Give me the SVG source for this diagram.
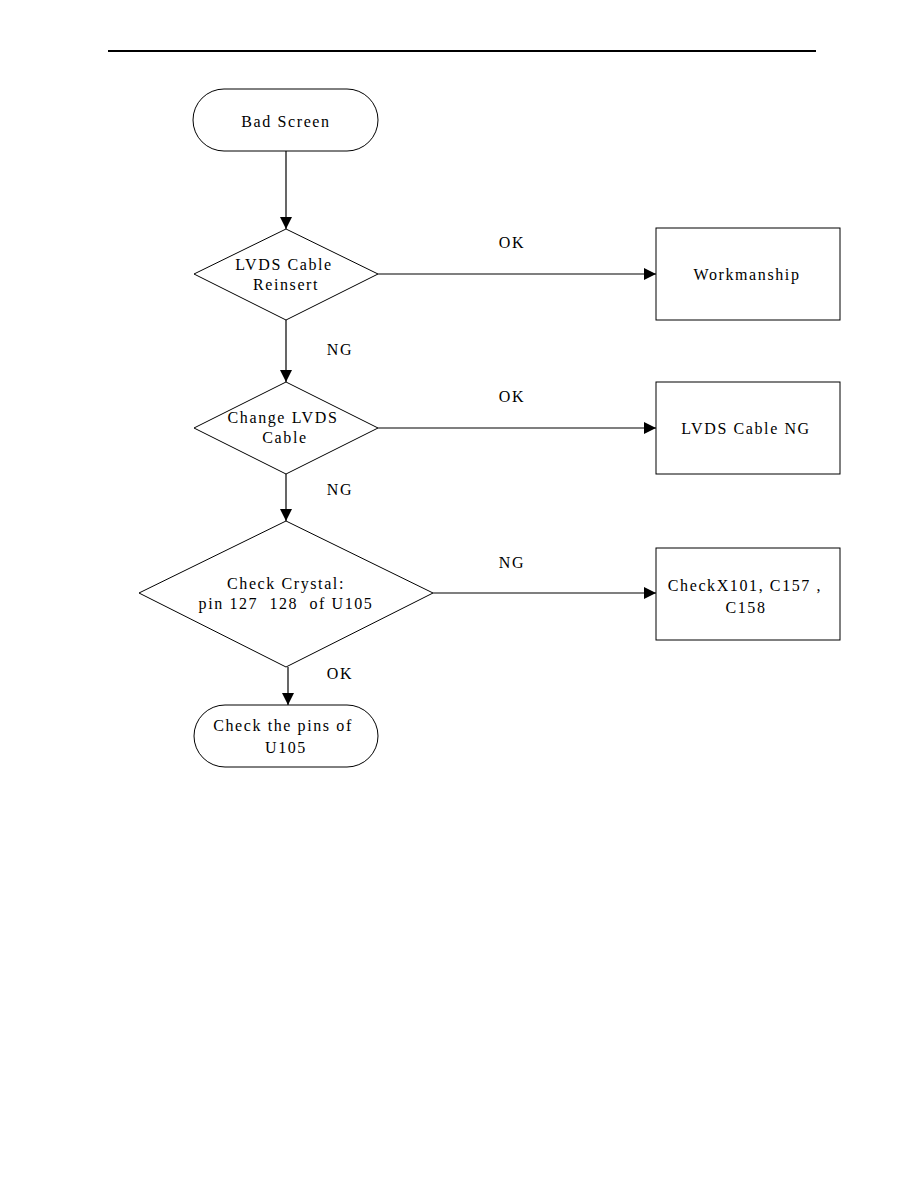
<svg xmlns="http://www.w3.org/2000/svg" width="918" height="1188" viewBox="0 0 918 1188">
<style>
.s{fill:#fff;stroke:#000;stroke-width:1}
.t{font-family:"Liberation Serif",serif;font-size:16px;letter-spacing:1.6px;fill:#000;text-anchor:middle}
.c{stroke:#000;stroke-width:1.2;fill:none}
</style>
<defs>
<marker id="a" viewBox="0 0 12 12" refX="12" refY="6" markerWidth="12" markerHeight="12" markerUnits="userSpaceOnUse" orient="auto">
<path d="M0,0 L12,6 L0,12 Z" fill="#000"/>
</marker>
</defs>
<rect width="918" height="1188" fill="#fff"/>
<line x1="108" y1="51" x2="816" y2="51" stroke="#000" stroke-width="2"/>
<g id="connectors">
<line class="c" x1="286" y1="151" x2="286" y2="229" marker-end="url(#a)"/>
<line class="c" x1="378" y1="274" x2="656" y2="274" marker-end="url(#a)"/>
<line class="c" x1="286" y1="320" x2="286" y2="382" marker-end="url(#a)"/>
<line class="c" x1="378" y1="428" x2="656" y2="428" marker-end="url(#a)"/>
<line class="c" x1="286" y1="474" x2="286" y2="521" marker-end="url(#a)"/>
<line class="c" x1="433" y1="593" x2="656" y2="593" marker-end="url(#a)"/>
<line class="c" x1="288" y1="667" x2="288" y2="705" marker-end="url(#a)"/>
<text class="t" x="512" y="248">OK</text>
<text class="t" x="340" y="355">NG</text>
<text class="t" x="512" y="402">OK</text>
<text class="t" x="340" y="495">NG</text>
<text class="t" x="512" y="568">NG</text>
<text class="t" x="340" y="679">OK</text>
</g>
<g id="bad-screen">
<rect class="s" x="193" y="89" width="185" height="62" rx="31" ry="31"/>
<text class="t" x="286" y="127">Bad Screen</text>
</g>
<g id="lvds-reinsert">
<polygon class="s" points="286,229 378,274 286,320 194,274"/>
<text class="t" x="284" y="270">LVDS Cable</text>
<text class="t" x="286" y="290">Reinsert</text>
</g>
<g id="workmanship">
<rect class="s" x="656" y="228" width="184" height="92"/>
<text class="t" x="747" y="280">Workmanship</text>
</g>
<g id="change-lvds">
<polygon class="s" points="286,382 378,428 286,474 194,428"/>
<text class="t" x="283" y="423">Change LVDS</text>
<text class="t" x="285" y="443">Cable</text>
</g>
<g id="lvds-ng">
<rect class="s" x="656" y="382" width="184" height="92" stroke="#555"/>
<text class="t" x="746" y="434">LVDS Cable NG</text>
</g>
<g id="check-crystal">
<polygon class="s" points="286,521 433,593 286,667 139,593"/>
<text class="t" x="286" y="589">Check Crystal:</text>
<text class="t" x="286" y="609" xml:space="preserve">pin 127  128  of U105</text>
</g>
<g id="check-x101">
<rect class="s" x="656" y="548" width="184" height="92"/>
<text class="t" x="745" y="591">CheckX101, C157 ,</text>
<text class="t" x="746" y="613">C158</text>
</g>
<g id="check-pins">
<rect class="s" x="194" y="705" width="184" height="62" rx="31" ry="31"/>
<text class="t" x="283" y="731">Check the pins of</text>
<text class="t" x="286" y="753">U105</text>
</g>
</svg>
